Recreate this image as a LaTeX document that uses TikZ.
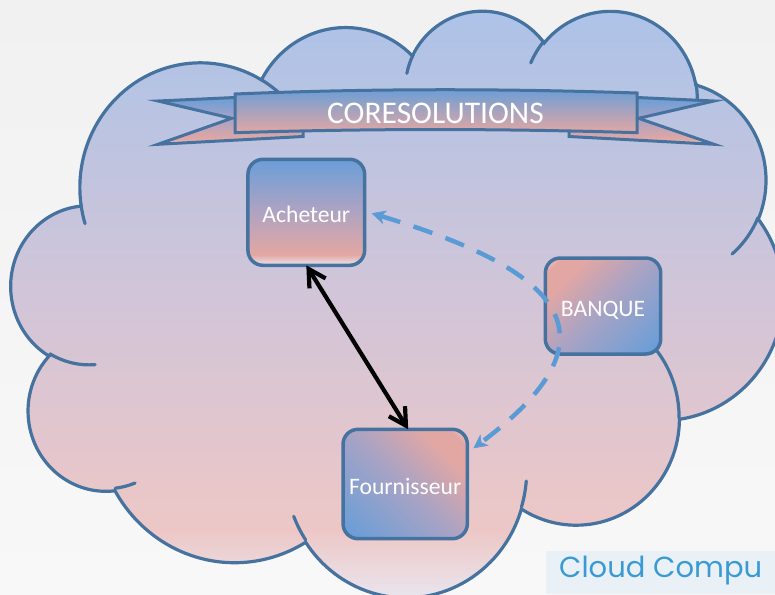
\documentclass[tikz,border=0pt]{standalone}
\usepackage{fontspec}
\setmainfont{Carlito}
\newfontfamily\geofont{Poppins}
\usetikzlibrary{arrows.meta}

\definecolor{bgTop}{HTML}{F1F1F1}
\definecolor{bgBot}{HTML}{F8F8F8}
\definecolor{cloudA}{HTML}{ABC3E8}
\definecolor{cloudB}{HTML}{D2C5D8}
\definecolor{cloudC}{HTML}{EDC7C6}
\definecolor{cloudD}{HTML}{E9E6EF}
\definecolor{edge}{HTML}{4672A0}
\definecolor{gBlue}{HTML}{6A9ED8}
\definecolor{gMauve}{HTML}{AAA3C4}
\definecolor{gSalmon}{HTML}{E3A7A3}
\definecolor{gLight}{HTML}{EAE6EE}
\definecolor{flow}{HTML}{5B9BD5}
\definecolor{tagbg}{HTML}{EAF1F6}
\definecolor{tagtext}{HTML}{3A9AD3}

% blue on top, salmon then a light strip at the bottom
\pgfdeclareverticalshading{ribbonside}{100bp}{color(0bp)=(gLight); color(25bp)=(gLight); color(30bp)=(gSalmon); color(52bp)=(gMauve); color(75bp)=(gBlue); color(100bp)=(gBlue)}
% same palette, meant to be turned for corner-to-corner fills
\pgfdeclareverticalshading{cornergrad}{100bp}{color(0bp)=(gBlue); color(18bp)=(gBlue); color(50bp)=(gMauve); color(72bp)=(gSalmon); color(80bp)=(gSalmon); color(88bp)=(gLight); color(100bp)=(gLight)}

% elliptic arc given by its radii, a start angle and a sweep measured
% as true (not parametric) angles
\newcommand\cldcalc[4]{%
  \pgfmathparse{atan2((#1)*sin(#3),(#2)*cos(#3))}\global\let\cldA\pgfmathresult
  \pgfmathparse{atan2((#1)*sin((#3)+(#4)),(#2)*cos((#3)+(#4)))}\global\let\cldB\pgfmathresult
  \pgfmathparse{mod((\cldB)-(\cldA)+720,360)}\global\let\cldD\pgfmathresult}
\newcommand\cldarc[4]{\pgfextra{\cldcalc{#1}{#2}{#3}{#4}} arc[start angle=\cldA, delta angle=\cldD, x radius=#1, y radius=#2]}

\newcommand\cloudoutline{(390,1437)
  \cldarc{675.3}{919.0}{-190.4875}{123.7805}
  \cldarc{533.3}{726.7}{-144.1024}{89.9452}
  \cldarc{436.5}{594.5}{-145.8079}{99.7230}
  \cldarc{485.7}{659.5}{-130.9861}{117.2417}
  \cldarc{533.3}{727.3}{-78.7089}{109.0269}
  \cldarc{677.5}{922.0}{-46.2673}{130.2690}
  \cldarc{578.5}{786.7}{0.6250}{114.0333}
  \cldarc{675.2}{921.5}{22.4516}{115.1726}
  \cldarc{772.0}{1054.3}{66.2426}{75.7110}
  \cldarc{436.0}{591.8}{-274.9421}{146.7356}
  \cldarc{434.5}{594.5}{-246.8285}{152.5189}
  -- cycle}

\newcommand\cloudcreases{
  (469.3,2617.7) \cldarc{434.5}{594.5}{86.742}{26.4295}
  (692.8,3489.9) \cldarc{436.0}{591.8}{73.6105}{11.4475}
  (1647.8,3909.0) \cldarc{675.2}{921.5}{137.6242}{14.0811}
  (2882.7,3475.1) \cldarc{675.2}{921.5}{6.4533}{15.9984}
  (3412.9,2295.4) \cldarc{578.5}{786.7}{-70.2924}{70.9174}
  (4179.8,1535.4) \cldarc{533.3}{727.3}{30.3180}{27.7515}
  (3832.4,542.6) \cldarc{485.7}{659.5}{-13.7443}{14.8593}
  (2907.8,395.2) \cldarc{485.7}{659.5}{-149.1815}{18.2006}
  (2214.1,472.0) \cldarc{436.5}{594.5}{-163.4943}{17.7792}
  (1400.0,519.2) \cldarc{675.3}{919.0}{-66.7070}{12.3194}
  (412.7,1578.9) \cldarc{675.3}{919.0}{157.6544}{11.8582}}

\begin{document}
\begin{tikzpicture}[x=1pt,y=-1pt,
  cloudspace/.style={xshift=11.3pt,yshift=-9.3pt,x=0.178634pt,y=-0.135741pt},
  cloudline/.style={draw=edge,line width=3.2pt},
  ribbonline/.style={draw=edge,line width=3pt,line join=miter,miter limit=25},
  box/.style={draw=edge,line width=3.5pt,rounded corners=15pt,shade,
    inner sep=0pt,outer sep=0pt,text=white,
    font=\fontsize{23.6}{28}\selectfont,text height=21pt,text depth=0pt},
  barb/.style={line width=4.2pt,
    {Straight Barb[length=17pt,width=19pt]}-{Straight Barb[length=17pt,width=19pt]}},
  flowline/.style={draw=flow,line width=4.5pt,dash pattern=on 20pt off 14pt,
    {Stealth[length=14pt,width=14pt,inset=4pt,line width=0.5pt]}-{Stealth[length=14pt,width=14pt,inset=4pt,line width=0.5pt]}}]

\useasboundingbox (0,0) rectangle (775,594);
\shade[top color=bgTop,bottom color=bgBot] (0,0) rectangle (775,594);

% cloud body
\begin{scope}
  \clip[cloudspace] \cloudoutline;
  \shade[top color=cloudA,bottom color=cloudB] (0,0) rectangle (800,300);
  \shade[top color=cloudB,bottom color=cloudC] (0,300) rectangle (800,530);
  \shade[top color=cloudC,bottom color=cloudD] (0,530) rectangle (800,600);
\end{scope}
\path[cloudline,cloudspace] \cloudoutline;
\path[cloudline,cloudspace,line cap=round] \cloudcreases;

% ribbon tails (behind) and front band
\path[ribbonline,shade,shading=ribbonside]
  (303,120) -- (303,136.5) -- (158,144.3) -- (231.7,118.3) -- (158,101) -- (235,97.5) -- cycle;
\path[ribbonline,shade,shading=ribbonside]
  (569,120) -- (569,136.5) -- (714,144.3) -- (638.5,118.3) -- (714,101) -- (637,97.5) -- cycle;
\path[ribbonline,top color=gBlue,middle color=gMauve,bottom color=gSalmon]
  (235,94) .. controls (370,88.5) and (500,88.5) .. (637,93) -- (637,132.7)
  .. controls (500,128.5) and (370,128.5) .. (235,132.7) -- cycle;
\node[anchor=base,text=white,font=\fontsize{31.5}{36}\selectfont,inner sep=0pt]
  (title) at (435.5,123.5) {CORESOLUTIONS};

% parties
\node[box,minimum width=116.7pt,minimum height=106pt,shading=ribbonside]
  (ach) at (306.3,212.3) {Acheteur};
\node[box,minimum width=115.4pt,minimum height=96pt,shading=cornergrad,shading angle=45]
  (bank) at (603,306) {BANQUE};
\node[box,minimum width=124.3pt,minimum height=109.4pt,shading=cornergrad,shading angle=-45]
  (four) at (405.2,484) {Fournisseur};

% exchanges
\draw[barb] (ach.south) -- ([xshift=3pt]four.north);
\coordinate (achIn) at ([xshift=7pt,yshift=-1pt]ach.east);
\coordinate (fourIn) at ([xshift=6pt,yshift=-19pt]four.north east);
\draw[flowline] (achIn) .. controls (560,270) and (625,335) .. (fourIn);

% footer tag
\node[fill=tagbg,anchor=north west,minimum width=229pt,minimum height=43pt,inner sep=0pt]
  (tagbox) at (546,551) {};
\node[anchor=base west,text=tagtext,font=\geofont\fontsize{29}{34}\selectfont,inner sep=0pt]
  (tag) at (559,577) {Cloud Compu};
\end{tikzpicture}
\end{document}
